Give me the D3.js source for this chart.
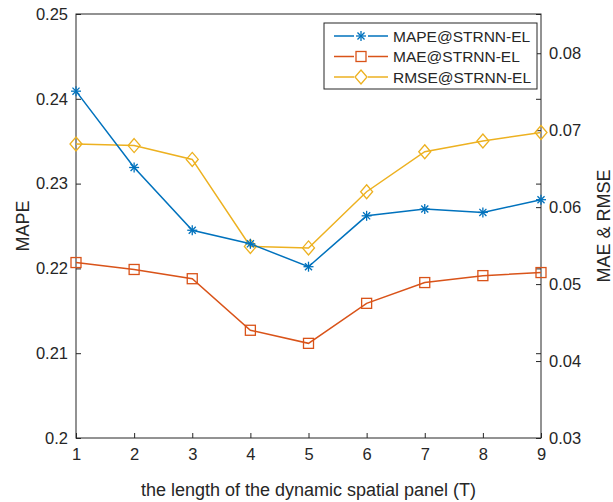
<!DOCTYPE html>
<html>
<head>
<meta charset="utf-8">
<script src="https://cdn.jsdelivr.net/npm/d3@7"></script>
<style>
  body { margin: 0; background: #fff; }
  text { font-family: "Liberation Sans", Arial, sans-serif; fill: #262626; }
</style>
</head>
<body>
<script>
const WIDTH = 613
const HEIGHT = 502
const M = { left: 76, right: 72, top: 14, bottom: 64 }

// lengths T of the dynamic spatial panel
const T = [1, 2, 3, 4, 5, 6, 7, 8, 9]
const MAPE = [0.2409, 0.2319, 0.2245, 0.2229, 0.2202, 0.2262, 0.2270, 0.2266, 0.2281]
const MAE = [0.0528, 0.0519, 0.0507, 0.0440, 0.0423, 0.0475, 0.0502, 0.0511, 0.0515]
const RMSE = [0.0682, 0.0680, 0.0662, 0.0549, 0.0547, 0.0620, 0.0672, 0.0686, 0.0697]
const LEFT_TICKS = [0.2, 0.21, 0.22, 0.23, 0.24, 0.25]
const RIGHT_TICKS = [0.03, 0.04, 0.05, 0.06, 0.07, 0.08]
const SERIES = ['MAPE@STRNN-EL', 'MAE@STRNN-EL', 'RMSE@STRNN-EL']
const COLORS = ['#0072BD', '#D95319', '#EDB120']

const svg = d3.select('body').append('svg')
  .attr('width', WIDTH).attr('height', HEIGHT)

const x = d3.scaleLinear().domain([1, 9]).range([M.left, WIDTH - M.right])
const yL = d3.scaleLinear().domain([0.2, 0.25]).range([HEIGHT - M.bottom, M.top])
const yR = d3.scaleLinear().domain([0.03, 0.0851]).range([HEIGHT - M.bottom, M.top])

const axisColor = '#262626'
const fs = '16.5px'

// box
svg.append('rect')
  .attr('x', M.left).attr('y', M.top)
  .attr('width', x(9) - x(1)).attr('height', yL(0.2) - yL(0.25))
  .attr('fill', 'none').attr('stroke', axisColor).attr('stroke-width', 1)

// axes (ticks inward)
const xAxis = svg.append('g')
  .attr('transform', `translate(0,${HEIGHT - M.bottom})`)
  .call(d3.axisBottom(x).tickValues(T).tickSizeInner(-5).tickSizeOuter(0).tickPadding(10).tickFormat(d3.format('d')))
const lAxis = svg.append('g')
  .attr('transform', `translate(${M.left},0)`)
  .call(d3.axisLeft(yL).tickValues(LEFT_TICKS).tickSizeInner(-5).tickSizeOuter(0).tickPadding(8).tickFormat(d => d3.format('')(+d.toFixed(2))))
const lAxis2 = svg.append('g')
  .attr('transform', `translate(${WIDTH - M.right},0)`)
  .call(d3.axisRight(yL).tickValues(LEFT_TICKS).tickSizeInner(-5).tickSizeOuter(0).tickFormat(''))
const rAxis = svg.append('g')
  .attr('transform', `translate(${WIDTH - M.right},0)`)
  .call(d3.axisRight(yR).tickValues(RIGHT_TICKS).tickSizeInner(-5).tickSizeOuter(0).tickPadding(8).tickFormat(d3.format('.2f')))

for (const g of [xAxis, lAxis, lAxis2, rAxis]) {
  g.select('.domain').remove()
  g.selectAll('line').attr('stroke', axisColor)
  g.selectAll('text').attr('font-size', fs).attr('fill', axisColor)
    .style('font-family', '"Liberation Sans", Arial, sans-serif')
}

// axis titles
svg.append('text')
  .attr('transform', `translate(24,${(M.top + HEIGHT - M.bottom) / 2}) rotate(-90)`)
  .attr('text-anchor', 'middle').attr('dominant-baseline', 'middle')
  .attr('font-size', '18px').text('MAPE')
svg.append('text')
  .attr('transform', `translate(605,${(M.top + HEIGHT - M.bottom) / 2}) rotate(-90)`)
  .attr('text-anchor', 'middle').attr('dominant-baseline', 'middle')
  .attr('font-size', '18px').text('MAE & RMSE')
svg.append('text')
  .attr('x', (x(1) + x(9)) / 2).attr('y', 496)
  .attr('text-anchor', 'middle')
  .attr('font-size', '18px').text('the length of the dynamic spatial panel (T)')

// markers
function marker(g, kind, color) {
  if (kind === 0) {
    const r = 5
    for (const a of [0, 45, 90, 135]) {
      const t = a * Math.PI / 180
      g.append('line')
        .attr('x1', -r * Math.cos(t)).attr('y1', -r * Math.sin(t))
        .attr('x2', r * Math.cos(t)).attr('y2', r * Math.sin(t))
        .attr('stroke', color).attr('stroke-width', 1.3)
    }
  } else if (kind === 1) {
    g.append('rect').attr('x', -5).attr('y', -5).attr('width', 10).attr('height', 10)
      .attr('fill', 'none').attr('stroke', color).attr('stroke-width', 1.3)
  } else {
    g.append('path').attr('d', 'M0,-7L6,0L0,7L-6,0Z')
      .attr('fill', 'none').attr('stroke', color).attr('stroke-width', 1.3)
  }
}

const plots = [
  { vals: MAPE, y: yL },
  { vals: MAE, y: yR },
  { vals: RMSE, y: yR }
]
// draw RMSE first, then MAE, then MAPE on top
;[2, 1, 0].forEach(i => {
  const p = plots[i]
  const line = d3.line().x((d, j) => x(T[j])).y(d => p.y(d))
  svg.append('path').datum(p.vals).attr('d', line)
    .attr('fill', 'none').attr('stroke', COLORS[i]).attr('stroke-width', 1.5)
  p.vals.forEach((v, j) => {
    const g = svg.append('g').attr('transform', `translate(${x(T[j])},${p.y(v)})`)
    marker(g, i, COLORS[i])
  })
})

// legend
const lg = svg.append('g').attr('transform', 'translate(324,23)')
lg.append('rect').attr('width', 213).attr('height', 66)
  .attr('fill', '#fff').attr('stroke', axisColor).attr('stroke-width', 1)
SERIES.forEach((s, i) => {
  const yy = 13 + i * 20.5
  lg.append('line').attr('x1', 10).attr('x2', 64).attr('y1', yy).attr('y2', yy)
    .attr('stroke', COLORS[i]).attr('stroke-width', 1.5)
  const g = lg.append('g').attr('transform', `translate(37,${yy})`)
  g.append('rect').attr('x', -7).attr('y', -7).attr('width', 14).attr('height', 14).attr('fill', '#fff')
  marker(g, i, COLORS[i])
  lg.append('text').attr('x', 69).attr('y', yy).attr('dominant-baseline', 'central')
    .attr('font-size', '15.5px').text(s)
})
</script>
</body>
</html>
